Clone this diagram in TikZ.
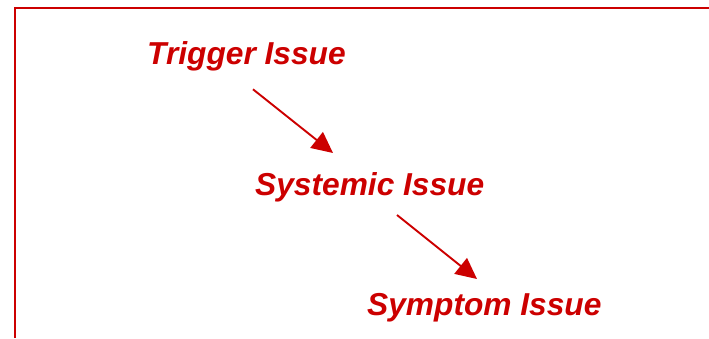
\documentclass[tikz,border=0pt]{standalone}
\usepackage{fontspec}
\setmainfont{Liberation Sans}
\usepackage{xcolor}
\usetikzlibrary{arrows.meta,positioning}
\definecolor{issuered}{RGB}{204,0,0}

\begin{document}
\begin{tikzpicture}[
    x=1pt, y=-1pt,
    frame/.style={draw=issuered, line width=1.5pt},
    issue/.style={inner sep=0, anchor=base west, text=issuered,
        font=\fontsize{31.7}{34}\selectfont\bfseries\itshape},
    flow/.style={draw=issuered, line width=1.9pt,
        -{Triangle[length=21pt, width=20pt]}}]
\useasboundingbox (0,0) rectangle (709,338);

% frame, cut off at the right and bottom
\path[frame] (15,338) -- (15,8) -- (709,8);

\node[issue] (trigger)  at (147,64.3) {Trigger Issue};
\node[issue] (systemic) at (255,195)  {Systemic Issue};
\node[issue] (symptom)  at (367,315)  {Symptom Issue};

\path[flow] ([xshift=106, yshift=-25]trigger.base west)  -- ([xshift=78, yshift=42]systemic.base west);
\path[flow] ([xshift=142, yshift=-20]systemic.base west) -- ([xshift=110, yshift=36]symptom.base west);

\end{tikzpicture}
\end{document}
